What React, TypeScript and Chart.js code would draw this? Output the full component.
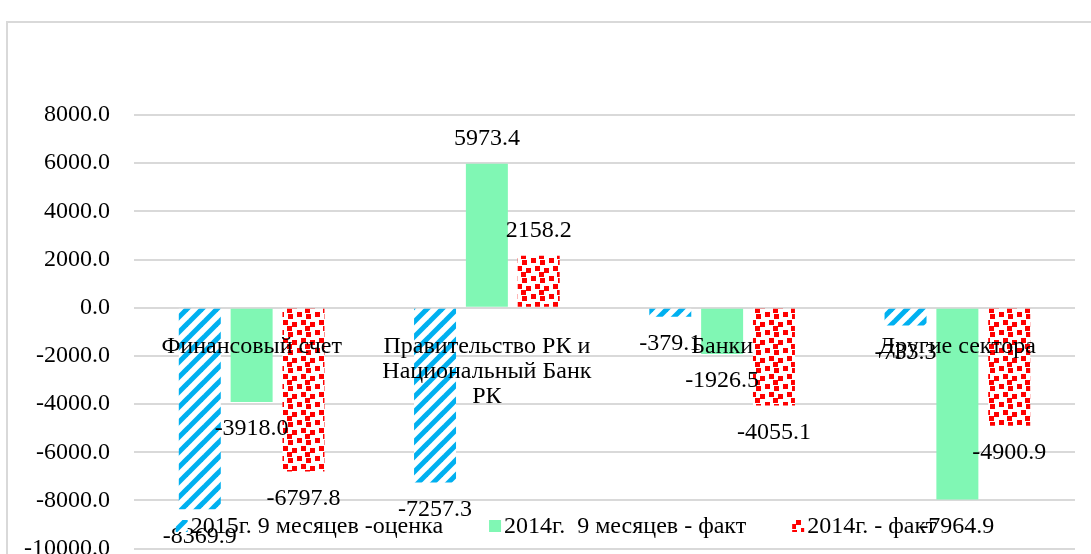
import React, { useEffect, useRef } from 'react';
import { Chart, registerables } from 'chart.js';

Chart.register(...registerables);

const categories: (string | string[])[] = [
  'Финансовый счет',
  ['Правительство РК и', 'Национальный Банк', 'РК'],
  'Банки',
  'Другие сектора',
];
const seriesNames = ['2015г. 9 месяцев -оценка', '2014г.  9 месяцев - факт', '2014г. - факт'];
const estimate2015 = [-8369.9, -7257.3, -379.1, -733.3];
const fact2014nine = [-3918.0, 5973.4, -1926.5, -7964.9];
const fact2014 = [-6797.8, 2158.2, -4055.1, -4900.9];
const yMin = -10000;
const yMax = 8000;
const yStep = 2000;

const FONT_FAMILY = "'Liberation Serif', 'Times New Roman', serif";
const BLUE = '#00b0f0';
const GREEN = '#80f7b4';
const RED = '#ff0000';

function makeHatch(): CanvasPattern | string {
  const c = document.createElement('canvas');
  const s = 15;
  c.width = s;
  c.height = s;
  const g = c.getContext('2d');
  if (!g) return BLUE;
  g.fillStyle = '#ffffff';
  g.fillRect(0, 0, s, s);
  g.strokeStyle = BLUE;
  g.lineWidth = 5;
  for (const off of [-s, 0, s]) {
    g.beginPath();
    g.moveTo(off - 2, s + 2);
    g.lineTo(off + s + 2, -2);
    g.stroke();
  }
  return g.createPattern(c, 'repeat') || BLUE;
}

function makeConfetti(): CanvasPattern | string {
  const c = document.createElement('canvas');
  const s = 18;
  c.width = s;
  c.height = s;
  const g = c.getContext('2d');
  if (!g) return RED;
  g.fillStyle = '#ffffff';
  g.fillRect(0, 0, s, s);
  g.fillStyle = RED;
  const pts = [
    [1, 1],
    [10, 3],
    [5, 9],
    [14, 11],
    [9, 15],
  ];
  for (const [x, y] of pts) {
    g.fillRect(x, y, 5, 5);
    if (x + 5 > s) g.fillRect(x - s, y, 5, 5);
    if (y + 5 > s) g.fillRect(x, y - s, 5, 5);
  }
  return g.createPattern(c, 'repeat') || RED;
}

const dataLabelPlugin = {
  id: 'dataLabels',
  afterDatasetsDraw(chart: any) {
    const ctx = chart.ctx;
    ctx.save();
    ctx.font = `24px ${FONT_FAMILY}`;
    ctx.fillStyle = '#000';
    ctx.textAlign = 'center';
    ctx.textBaseline = 'middle';
    chart.data.datasets.forEach((ds: any, di: number) => {
      const meta = chart.getDatasetMeta(di);
      meta.data.forEach((el: any, i: number) => {
        const v = ds.data[i] as number;
        const y = v < 0 ? el.y + 27 : el.y - 25;
        ctx.fillText(v.toFixed(1), el.x, y);
      });
    });
    ctx.restore();
  },
};

const legendPlugin = {
  id: 'customLegend',
  afterDraw(chart: any) {
    const ctx = chart.ctx;
    ctx.save();
    ctx.font = `24px ${FONT_FAMILY}`;
    ctx.textBaseline = 'middle';
    ctx.textAlign = 'left';
    const box = 12;
    const boxGap = 3;
    const itemGap = 46;
    const ds = chart.data.datasets;
    const widths = ds.map((d: any) => box + boxGap + ctx.measureText(d.label).width);
    const total = widths.reduce((a: number, b: number) => a + b, 0) + itemGap * (ds.length - 1);
    let x = chart.width / 2 - total / 2 - 2;
    const cy = 503;
    ds.forEach((d: any, i: number) => {
      ctx.fillStyle = d.backgroundColor;
      ctx.fillRect(x, cy - box / 2, box, box);
      ctx.fillStyle = '#000';
      ctx.fillText(d.label, x + box + boxGap, cy + 1);
      x += widths[i] + itemGap;
    });
    ctx.restore();
  },
};

export default function App() {
  const ref = useRef<HTMLCanvasElement | null>(null);

  useEffect(() => {
    if (!ref.current) return;
    const hatch = makeHatch();
    const confetti = makeConfetti();
    const font = { family: FONT_FAMILY, size: 24, lineHeight: 1.05 };
    const chart = new Chart(ref.current, {
      type: 'bar',
      data: {
        labels: categories as any,
        datasets: [
          { label: seriesNames[0], data: estimate2015, backgroundColor: hatch as any, borderWidth: 0 },
          { label: seriesNames[1], data: fact2014nine, backgroundColor: GREEN, borderWidth: 0 },
          { label: seriesNames[2], data: fact2014, backgroundColor: confetti as any, borderWidth: 0 },
        ],
      },
      options: {
        animation: false,
        responsive: false,
        maintainAspectRatio: false,
        layout: { padding: { top: 92, left: 0, right: 33, bottom: 21 } },
        datasets: {
          bar: { categoryPercentage: 0.661, barPercentage: 0.81 },
        } as any,
        plugins: {
          legend: { display: false },
          tooltip: { enabled: false },
        },
        scales: {
          x: {
            type: 'category',
            position: { y: 0 } as any,
            offset: true,
            grid: { display: false, drawTicks: false },
            border: { display: false },
            ticks: {
              z: 1,
              color: '#000',
              font,
              padding: 26,
              maxRotation: 0,
              autoSkip: false,
            } as any,
          },
          y: {
            type: 'linear',
            min: yMin,
            max: yMax,
            afterFit: (scale: any) => {
              scale.width = 126;
            },
            grid: { color: '#d9d9d9', lineWidth: 2, drawTicks: false },
            border: { display: false },
            ticks: {
              stepSize: yStep,
              color: '#000',
              font: { family: FONT_FAMILY, size: 24 },
              padding: 24,
              callback: (v: any) => Number(v).toFixed(1),
            },
          },
        },
      },
      plugins: [dataLabelPlugin, legendPlugin],
    });
    return () => chart.destroy();
  }, []);

  return (
    <div style={{ position: 'fixed', left: 0, top: 0, right: 0, bottom: 0, overflow: 'hidden', background: '#fff' }}>
      <div
        style={{
          position: 'absolute',
          left: 6,
          top: 21,
          width: 1120,
          height: 580,
          border: '2px solid #d9d9d9',
        }}
      >
        <canvas ref={ref} width={1100} height={564} style={{ display: 'block' }} />
      </div>
    </div>
  );
}
